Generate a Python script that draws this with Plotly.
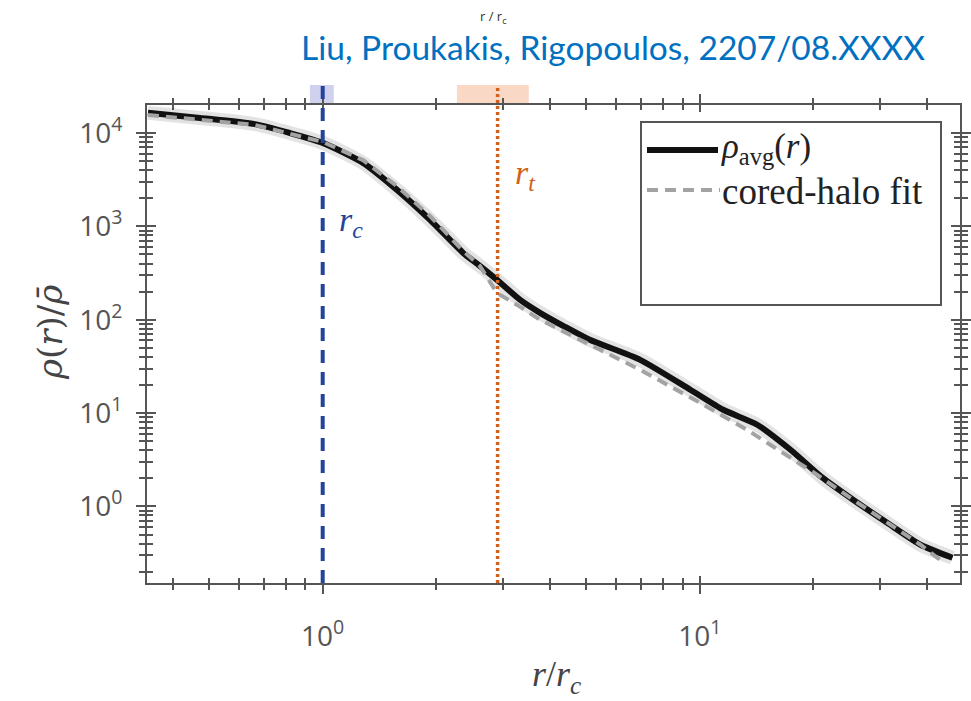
import numpy as np
import plotly.graph_objects as go

# ---- data ----
r_avg = [0.344, 0.473, 0.661, 0.819, 1.0, 1.279, 1.574, 1.926, 2.357, 2.59, 2.90,
         3.34, 3.77, 4.39, 5.11, 6.95, 9.44, 11.54, 14.2, 17.4, 21.2, 25.5, 31.4, 38.5, 46.8]
rho_avg = [16440, 14500, 12450, 10000, 7840, 4790, 2460, 1175, 520, 387, 267,
           163, 118.6, 84, 61, 37.2, 17.8, 10.85, 7.5, 4.05, 2.02, 1.18, 0.668, 0.389, 0.282]

r_fit = [0.344, 0.661, 1.0, 1.279, 1.574, 1.926, 2.357, 2.61, 2.90, 3.28, 3.77,
         5.11, 6.95, 9.91, 11.33, 13.36, 15.38, 17.7, 20.5, 25.5, 31.4, 38.5, 44.0]
rho_fit = [15600, 12200, 8030, 5130, 2700, 1290, 547, 378, 193, 144, 100,
           53.9, 29.1, 13.2, 9.6, 6.62, 4.58, 3.16, 2.18, 1.18, 0.668, 0.389, 0.256]

r_c = 1.0
r_t = 2.91
band_c = [0.925, 1.07]
band_t = [2.27, 3.52]

x_major = [1, 10]
x_major_text = ["10<sup>0</sup>", "10<sup>1</sup>"]
x_minor = [0.4, 0.5, 0.6, 0.7, 0.8, 0.9, 2, 3, 4, 5, 6, 7, 8, 9, 20, 30, 40]
y_major = [1, 10, 100, 1000, 10000]
y_major_text = ["10<sup>0</sup>", "10<sup>1</sup>", "10<sup>2</sup>", "10<sup>3</sup>", "10<sup>4</sup>"]
y_minor = [m * 10 ** e for e in range(-1, 5) for m in range(2, 10) if 0.15 < m * 10 ** e < 19000]

x_range = [np.log10(0.342), np.log10(49)]
y_range = [-0.82, 4.30]

AX = "#555555"
SERIF = "Liberation Serif"

fig = go.Figure()
fig.add_trace(go.Scatter(x=r_avg, y=rho_avg, mode="lines",
                         line=dict(color="rgba(175,175,175,0.35)", width=14, shape="spline", smoothing=0.6),
                         hoverinfo="skip", showlegend=False))
fig.add_trace(go.Scatter(x=r_avg, y=rho_avg, mode="lines", name="ρavg(r)",
                         line=dict(color="#111111", width=6, shape="spline", smoothing=0.6),
                         showlegend=False))
fig.add_trace(go.Scatter(x=r_fit, y=rho_fit, mode="lines", name="cored-halo fit",
                         line=dict(color="#a3a3a3", width=4, dash="11px,7px"),
                         showlegend=False))
# invisible trace for the overlay (inner tick) axes
fig.add_trace(go.Scatter(x=[r_avg[0]], y=[rho_avg[0]], xaxis="x2", yaxis="y2", mode="lines",
                         line=dict(width=0), hoverinfo="skip", showlegend=False))

L, R, T, B = 147, 11, 105, 118
W = 971.0 - L - R
H = 701.0 - T - B
top_ext = 1 + 20 / H


def px_x(p):
    return (p - L) / W


def px_y(p):
    return (701 - B - p) / H


shapes = []
# shaded bands above the plot
shapes.append(dict(type="rect", xref="x", yref="paper", x0=band_c[0], x1=band_c[1], y0=1, y1=top_ext,
                   fillcolor="rgba(150,150,220,0.45)", line=dict(width=0), layer="below"))
shapes.append(dict(type="rect", xref="x", yref="paper", x0=band_t[0], x1=band_t[1], y0=1, y1=top_ext,
                   fillcolor="rgba(245,190,160,0.6)", line=dict(width=0), layer="below"))
# vertical markers
shapes.append(dict(type="line", xref="x", yref="paper", x0=r_c, x1=r_c, y0=0, y1=top_ext,
                   line=dict(color="#23439c", width=4, dash="13px,9px"), layer="above"))
shapes.append(dict(type="line", xref="x", yref="paper", x0=r_t, x1=r_t, y0=0, y1=top_ext,
                   line=dict(color="#d2601a", width=3.5, dash="3px,3px"), layer="above"))
# legend box
shapes.append(dict(type="rect", xref="paper", yref="paper", x0=px_x(641), x1=px_x(941),
                   y0=px_y(305), y1=px_y(122), line=dict(color=AX, width=2), fillcolor="white", layer="above"))
shapes.append(dict(type="line", xref="paper", yref="paper", x0=px_x(647), x1=px_x(718),
                   y0=px_y(150), y1=px_y(150), line=dict(color="#111111", width=6), layer="above"))
shapes.append(dict(type="line", xref="paper", yref="paper", x0=px_x(647), x1=px_x(720),
                   y0=px_y(190), y1=px_y(190), line=dict(color="#a3a3a3", width=4, dash="11px,7px"), layer="above"))

annotations = [
    dict(xref="paper", yref="paper", x=px_x(719), y=px_y(148), xanchor="left", yanchor="middle",
         text="<i>ρ</i><sub>avg</sub>(<i>r</i>)", showarrow=False,
         font=dict(family=SERIF, size=35, color="#222222")),
    dict(xref="paper", yref="paper", x=px_x(720), y=px_y(191), xanchor="left", yanchor="middle",
         text="cored-halo fit", showarrow=False,
         font=dict(family=SERIF, size=37, color="#222222")),
    dict(xref="paper", yref="paper", x=px_x(337), y=px_y(222), xanchor="left", yanchor="middle",
         text="<i>r<sub>c</sub></i>", showarrow=False,
         font=dict(family=SERIF, size=34, color="#23439c")),
    dict(xref="paper", yref="paper", x=px_x(513), y=px_y(175), xanchor="left", yanchor="middle",
         text="<i>r<sub>t</sub></i>", showarrow=False,
         font=dict(family=SERIF, size=34, color="#d2601a")),
    dict(xref="paper", yref="paper", x=px_x(556), y=px_y(676), xanchor="center", yanchor="middle",
         text="<i>r</i>/<i>r<sub>c</sub></i>", showarrow=False,
         font=dict(family=SERIF, size=36, color="#444444")),
    dict(xref="paper", yref="paper", x=px_x(50), y=px_y(333), xanchor="center", yanchor="middle",
         text="<i>ρ</i>(<i>r</i>)/<i>ρ̄</i>", showarrow=False, textangle=-90,
         font=dict(family="DejaVu Serif", size=34, color="#444444")),
    dict(xref="paper", yref="paper", x=px_x(613), y=px_y(47), xanchor="center", yanchor="middle",
         text="Liu, Proukakis, Rigopoulos, 2207/08.XXXX", showarrow=False,
         font=dict(family="Lato", size=33.5, color="#0070c0")),
    dict(xref="paper", yref="paper", x=px_x(493), y=px_y(17), xanchor="center", yanchor="middle",
         text="r / r<sub>c</sub>", showarrow=False,
         font=dict(family="Open Sans", size=13, color="#333333")),
]

common_x = dict(type="log", range=x_range, tickvals=x_major, showgrid=False, zeroline=False,
                tickcolor=AX, tickwidth=2, linecolor=AX, linewidth=2, showline=True, mirror="allticks")
common_y = dict(type="log", range=y_range, tickvals=y_major, showgrid=False, zeroline=False,
                tickcolor=AX, tickwidth=2, linecolor=AX, linewidth=2, showline=True, mirror="allticks")

fig.update_layout(
    width=971, height=701,
    margin=dict(l=L, r=R, t=T, b=B, autoexpand=False),
    paper_bgcolor="white", plot_bgcolor="white",
    showlegend=False,
    xaxis=dict(**common_x, ticktext=x_major_text, ticks="outside", ticklen=9,
               minor=dict(tickvals=x_minor, ticks="outside", ticklen=5, tickwidth=2, tickcolor=AX, showgrid=False),
               tickfont=dict(family="Open Sans", size=28, color="#555555"), ticklabelstandoff=18),
    yaxis=dict(**common_y, ticktext=y_major_text, ticks="outside", ticklen=9,
               minor=dict(tickvals=y_minor, ticks="outside", ticklen=6, tickwidth=2, tickcolor=AX, showgrid=False),
               tickfont=dict(family="Open Sans", size=28, color="#555555"), ticklabelstandoff=8),
    xaxis2=dict(**common_x, overlaying="x", anchor="y2", side="bottom", ticks="inside", ticklen=7,
                showticklabels=False,
                minor=dict(tickvals=x_minor, ticks="inside", ticklen=5, tickwidth=2, tickcolor=AX, showgrid=False)),
    yaxis2=dict(**common_y, overlaying="y", anchor="x2", side="left", ticks="inside", ticklen=9,
                showticklabels=False,
                minor=dict(tickvals=y_minor, ticks="inside", ticklen=6, tickwidth=2, tickcolor=AX, showgrid=False)),
    shapes=shapes,
    annotations=annotations,
)

fig.write_html("out.html")
